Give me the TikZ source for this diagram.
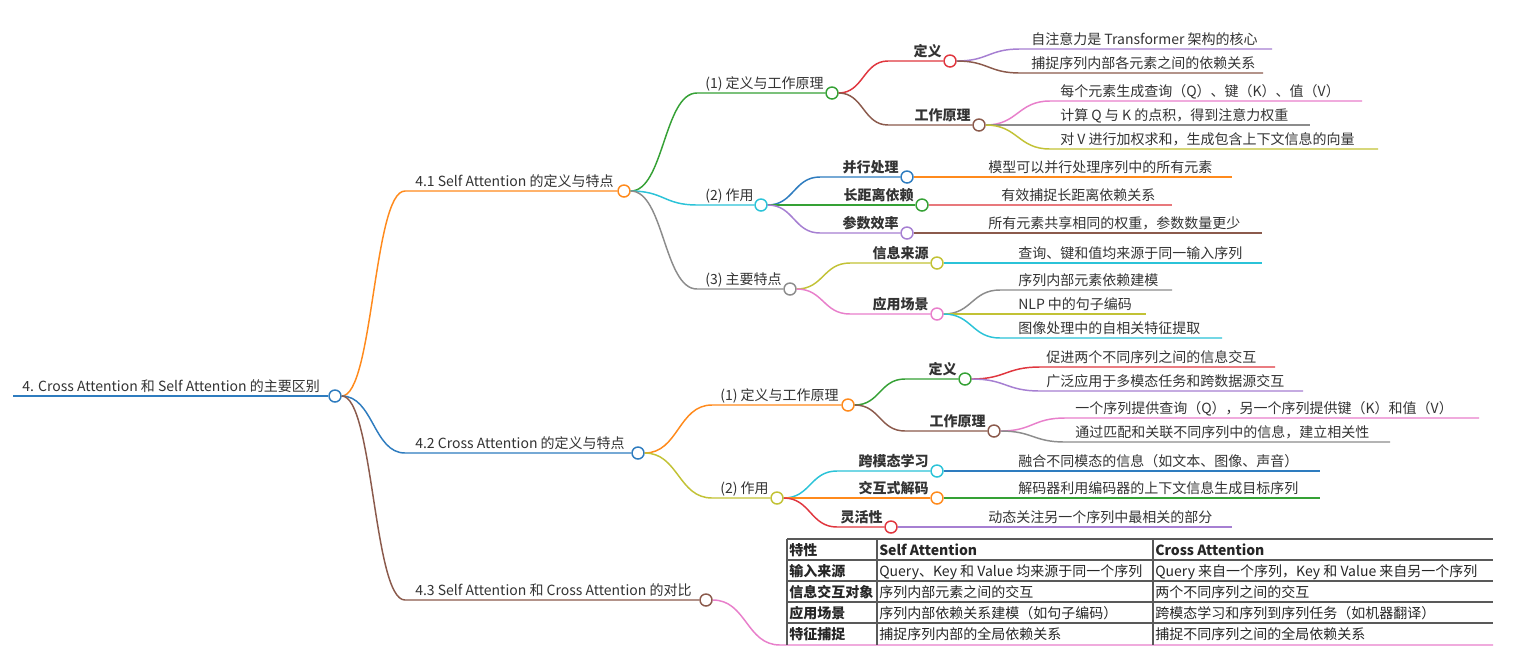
\documentclass[tikz,border=0pt]{standalone}
\usepackage{fontspec}
\setmainfont{Noto Sans CJK SC}
\usetikzlibrary{calc}

\newcommand\mmfont{\fontsize{10.5}{12.6}\selectfont}

\definecolor{mblue}{HTML}{2E7CBF}
\definecolor{morange}{HTML}{FF8A1C}
\definecolor{mbrown}{HTML}{8B5A4C}
\definecolor{mgreen}{HTML}{35A135}
\definecolor{mred}{HTML}{E0363E}
\definecolor{msalmon}{HTML}{E8787C}
\definecolor{mcyan}{HTML}{2BC3D8}
\definecolor{mgray}{HTML}{8C8C8C}
\definecolor{mpurple}{HTML}{A67FD2}
\definecolor{mpink}{HTML}{E87FCB}
\definecolor{molive}{HTML}{C2C235}
\definecolor{txt}{HTML}{333333}

\tikzset{
  br/.style={draw=#1, line width=1.1pt},
  dot/.style={circle, draw=#1, fill=white, line width=1.1pt, minimum size=9pt, inner sep=0pt},
  lbl/.style={anchor=base west, inner sep=0pt, text=txt, font=\mmfont},
  lblb/.style={anchor=base east, inner sep=0pt, text=txt, font=\mmfont\bfseries},
  cell/.style={anchor=base west, inner sep=0pt, text=black!85, font=\mmfont},
  tline/.style={draw=black!65, line width=0.8pt},
  sline/.style={to path={let \p1=(\tikztostart), \p2=(\tikztotarget), \n1={0.5*(\x2-\x1)} in
    .. controls +(\n1,0) and +(-\n1,0) .. (\tikztotarget) \tikztonodes}},
}

\begin{document}
\begin{tikzpicture}[x=0.75pt,y=-0.75pt]
  \useasboundingbox[fill=white] (0,0) rectangle (1522,654);

  % 根节点
  \coordinate (r-s) at (13,396);
  \node[dot=mblue] (r) at (335,396) {};
  \draw[br=mblue, line width=1.6pt] (r-s) -- (r.west);
  \node[lbl] (r-t) at (22,391) {4. Cross Attention 和 Self Attention 的主要区别};

  % 第一层
  \coordinate (a-s) at (405,191);
  \coordinate (b-s) at (405,453);
  \coordinate (c-s) at (405,600);
  \node[dot=morange] (a) at (624,191) {};
  \node[dot=mblue] (b) at (638,453) {};
  \node[dot=mbrown] (c) at (706,600) {};
  \draw[br=morange] (r.east) to[sline] (a-s) -- (a.west);
  \draw[br=mblue] (r.east) to[sline] (b-s) -- (b.west);
  \draw[br=mbrown] (r.east) to[sline] (c-s) -- (c.west);
  \node[lbl] (a-t) at (415,186) {4.1 Self Attention 的定义与特点};
  \node[lbl] (b-t) at (415,448) {4.2 Cross Attention 的定义与特点};
  \node[lbl] (c-t) at (415,595) {4.3 Self Attention 和 Cross Attention 的对比};

  % 4.1 的分支
  \coordinate (a1-s) at (697,93);
  \coordinate (a2-s) at (697,205);
  \coordinate (a3-s) at (697,289);
  \node[dot=mgreen] (a1) at (832,93) {};
  \node[dot=mcyan] (a2) at (761,205) {};
  \node[dot=mgray] (a3) at (790,289) {};
  \draw[br=mgreen] (a.east) to[sline] (a1-s) -- (a1.west);
  \draw[br=mcyan] (a.east) to[sline] (a2-s) -- (a2.west);
  \draw[br=mgray] (a.east) to[sline] (a3-s) -- (a3.west);
  \node[lbl] (a1-t) at (705,88) {(1) 定义与工作原理};
  \node[lbl] (a2-t) at (705,200) {(2) 作用};
  \node[lbl] (a3-t) at (705,284) {(3) 主要特点};

  % (1) 定义与工作原理
  \coordinate (a1a-s) at (888,61);
  \coordinate (a1b-s) at (888,125);
  \node[dot=mred] (a1a) at (950,61) {};
  \node[dot=mbrown] (a1b) at (979,125) {};
  \draw[br=mred] (a1.east) to[sline] (a1a-s) -- (a1a.west);
  \draw[br=mbrown] (a1.east) to[sline] (a1b-s) -- (a1b.west);
  \node[lblb] (a1a-t) at (942,56) {定义};
  \node[lblb] (a1b-t) at (971,120) {工作原理};

  \foreach \i/\yy/\xe/\col/\txt in {
      1/49/1272/mpurple/{自注意力是 Transformer 架构的核心},
      2/73/1263/mbrown/{捕捉序列内部各元素之间的依赖关系}} {
    \coordinate (a1a-s\i) at (1020,\yy);
    \coordinate (a1a-e\i) at (\xe,\yy);
    \draw[br=\col] (a1a.east) to[sline] (a1a-s\i) -- (a1a-e\i);
    \node[lbl] (a1a-t\i) at (1031,\yy-5) {\txt};
  }
  \foreach \i/\yy/\xe/\col/\txt in {
      1/101/1362/mpink/{每个元素生成查询（Q）、键（K）、值（V）},
      2/125/1310/mgray/{计算 Q 与 K 的点积，得到注意力权重},
      3/149/1378/molive/{对 V 进行加权求和，生成包含上下文信息的向量}} {
    \coordinate (a1b-s\i) at (1050,\yy);
    \coordinate (a1b-e\i) at (\xe,\yy);
    \draw[br=\col] (a1b.east) to[sline] (a1b-s\i) -- (a1b-e\i);
    \node[lbl] (a1b-t\i) at (1060,\yy-5) {\txt};
  }

  % (2) 作用
  \foreach \k/\yy/\xc/\col/\txt in {
      a/177/907/mblue/{并行处理},
      b/205/922/mgreen/{长距离依赖},
      c/233/907/mpurple/{参数效率}} {
    \coordinate (a2\k-s) at (820,\yy);
    \node[dot=\col] (a2\k) at (\xc,\yy) {};
    \draw[br=\col] (a2.east) to[sline] (a2\k-s) -- (a2\k.west);
    \node[lblb] (a2\k-t) at (\xc-8,\yy-5) {\txt};
  }
  \foreach \k/\yy/\xt/\xe/\col/\txt in {
      a/177/988/1232/morange/{模型可以并行处理序列中的所有元素},
      b/205/1001/1172/msalmon/{有效捕捉长距离依赖关系},
      c/233/988/1262/mbrown/{所有元素共享相同的权重，参数数量更少}} {
    \coordinate (a2\k-e) at (\xe,\yy);
    \draw[br=\col] (a2\k.east) -- (a2\k-e);
    \node[lbl] (a2\k-l) at (\xt,\yy-5) {\txt};
  }

  % (3) 主要特点
  \coordinate (a3a-s) at (850,263);
  \coordinate (a3b-s) at (850,314);
  \node[dot=molive] (a3a) at (937,263) {};
  \node[dot=mpink] (a3b) at (937,314) {};
  \draw[br=molive] (a3.east) to[sline] (a3a-s) -- (a3a.west);
  \draw[br=mpink] (a3.east) to[sline] (a3b-s) -- (a3b.west);
  \node[lblb] (a3a-t) at (929,258) {信息来源};
  \node[lblb] (a3b-t) at (929,309) {应用场景};

  \coordinate (a3a-e) at (1262,263);
  \draw[br=mcyan] (a3a.east) -- (a3a-e);
  \node[lbl] (a3a-l) at (1018,258) {查询、键和值均来源于同一输入序列};

  \foreach \i/\yy/\xe/\col/\txt in {
      1/290/1172/mgray/{序列内部元素依赖建模},
      2/314/1146/molive/{NLP 中的句子编码},
      3/338/1222/mcyan/{图像处理中的自相关特征提取}} {
    \coordinate (a3b-s\i) at (1000,\yy);
    \coordinate (a3b-e\i) at (\xe,\yy);
    \draw[br=\col] (a3b.east) to[sline] (a3b-s\i) -- (a3b-e\i);
    \node[lbl] (a3b-t\i) at (1018,\yy-5) {\txt};
  }

  % 4.2 的分支
  \coordinate (b1-s) at (712,405);
  \coordinate (b2-s) at (712,498);
  \node[dot=morange] (b1) at (848,405) {};
  \node[dot=molive] (b2) at (777,498) {};
  \draw[br=morange] (b.east) to[sline] (b1-s) -- (b1.west);
  \draw[br=molive] (b.east) to[sline] (b2-s) -- (b2.west);
  \node[lbl] (b1-t) at (720,400) {(1) 定义与工作原理};
  \node[lbl] (b2-t) at (720,493) {(2) 作用};

  % (1) 定义与工作原理
  \coordinate (b1a-s) at (905,379);
  \coordinate (b1b-s) at (905,431);
  \node[dot=mgreen] (b1a) at (965,379) {};
  \node[dot=mbrown] (b1b) at (994,431) {};
  \draw[br=mgreen] (b1.east) to[sline] (b1a-s) -- (b1a.west);
  \draw[br=mbrown] (b1.east) to[sline] (b1b-s) -- (b1b.west);
  \node[lblb] (b1a-t) at (957,374) {定义};
  \node[lblb] (b1b-t) at (986,426) {工作原理};

  \foreach \i/\yy/\xe/\col/\txt in {
      1/367/1275/mred/{促进两个不同序列之间的信息交互},
      2/391/1303/mpurple/{广泛应用于多模态任务和跨数据源交互}} {
    \coordinate (b1a-s\i) at (1040,\yy);
    \coordinate (b1a-e\i) at (\xe,\yy);
    \draw[br=\col] (b1a.east) to[sline] (b1a-s\i) -- (b1a-e\i);
    \node[lbl] (b1a-t\i) at (1046,\yy-5) {\txt};
  }
  \foreach \i/\yy/\xe/\col/\txt in {
      1/418/1479/mpink/{一个序列提供查询（Q），另一个序列提供键（K）和值（V）},
      2/442/1390/mgray/{通过匹配和关联不同序列中的信息，建立相关性}} {
    \coordinate (b1b-s\i) at (1065,\yy);
    \coordinate (b1b-e\i) at (\xe,\yy);
    \draw[br=\col] (b1b.east) to[sline] (b1b-s\i) -- (b1b-e\i);
    \node[lbl] (b1b-t\i) at (1075,\yy-5) {\txt};
  }

  % (2) 作用
  \foreach \k/\yy/\xc/\col/\txt in {
      a/471/937/mcyan/{跨模态学习},
      b/498/937/morange/{交互式解码},
      c/527/891/mred/{灵活性}} {
    \coordinate (b2\k-s) at (837,\yy);
    \node[dot=\col] (b2\k) at (\xc,\yy) {};
    \draw[br=\col] (b2.east) to[sline] (b2\k-s) -- (b2\k.west);
    \node[lblb] (b2\k-t) at (\xc-8,\yy-5) {\txt};
  }
  \foreach \k/\yy/\xt/\xe/\col/\txt in {
      a/471/1018/1320/mblue/{融合不同模态的信息（如文本、图像、声音）},
      b/498/1018/1320/mgreen/{解码器利用编码器的上下文信息生成目标序列},
      c/527/988/1232/mpurple/{动态关注另一个序列中最相关的部分}} {
    \coordinate (b2\k-e) at (\xe,\yy);
    \draw[br=\col] (b2\k.east) -- (b2\k-e);
    \node[lbl] (b2\k-l) at (\xt,\yy-5) {\txt};
  }

  % 4.3 对比表
  \coordinate (tb-s) at (780,645);
  \coordinate (tb-e) at (1493,645);
  \draw[br=mpink] (c.east) to[sline] (tb-s) -- (tb-e);
  \foreach \yy in {539,560,581,602,623}
    \draw[tline] (787,\yy) -- (1493,\yy);
  \foreach \xx in {787,877,1153}
    \draw[tline] (\xx,539) -- (\xx,645);

  \node[cell, font=\mmfont\bfseries] (h0) at (789,555) {特性};
  \node[cell, font=\mmfont\bfseries] (h1) at (879,555) {Self Attention};
  \node[cell, font=\mmfont\bfseries] (h2) at (1155,555) {Cross Attention};
  \foreach \i/\yy/\ka/\kb/\kc in {
      1/576/{输入来源}/{Query、Key 和 Value 均来源于同一个序列}/{Query 来自一个序列，Key 和 Value 来自另一个序列},
      2/597/{信息交互对象}/{序列内部元素之间的交互}/{两个不同序列之间的交互},
      3/618/{应用场景}/{序列内部依赖关系建模（如句子编码）}/{跨模态学习和序列到序列任务（如机器翻译）},
      4/639/{特征捕捉}/{捕捉序列内部的全局依赖关系}/{捕捉不同序列之间的全局依赖关系}} {
    \node[cell, font=\mmfont\bfseries] (k\i) at (789,\yy) {\ka};
    \node[cell] (s\i) at (879,\yy) {\kb};
    \node[cell] (x\i) at (1155,\yy) {\kc};
  }
\end{tikzpicture}
\end{document}
